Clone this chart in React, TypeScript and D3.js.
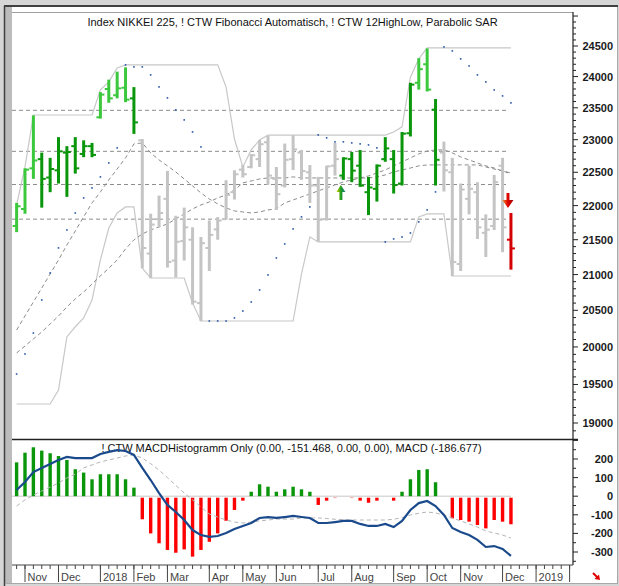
import * as d3 from 'd3';

// weekly bars, index -1 = last week of Oct 2017, index 58 = week of Dec 14 2018
const FIRST = -1;

const opens = [21700, 21950, 22560, 22700, 22420, 22530, 22800, 22900, 22780, 22900, 23350, 23800, 23700, 23820, 23650,
  22990, 21300, 21800, 22100, 21200, 21480, 21500, 20600, 21380, 21650, 21800, 22200, 22540, 22580, 22700, 22960, 22400,
  22300, 22700, 22800, 22500, 22300, 21800, 22600, 22450, 22700, 22600, 22200, 22250, 22700, 22700, 22330, 23100, 23900,
  24200, 23470, 22800, 22500, 21150, 22100, 22200, 21600, 21700, 22600, 21500];
const highs = [22040, 22560, 23380, 22800, 22720, 23040, 22900, 23040, 22990, 22950, 23750, 23950, 24080, 24150, 23830,
  23010, 21880, 22150, 22520, 21850, 21970, 21680, 21540, 21780, 21830, 22380, 22530, 22610, 22780, 22995, 23060, 22580,
  22940, 23070, 22840, 22610, 22430, 22600, 22950, 22730, 22810, 22840, 22430, 22620, 23040, 22840, 23120, 23900, 24300,
  24460, 23640, 22970, 22720, 22330, 22600, 22350, 21870, 22460, 22720, 21890];
const lows = [21610, 21880, 22400, 21970, 22200, 22330, 22130, 22480, 22730, 22730, 23330, 23580, 23650, 23590, 23090,
  21090, 20950, 21680, 21100, 20960, 21200, 20580, 20350, 21050, 21500, 21790, 22090, 22420, 22560, 22580, 22310, 21935,
  22270, 22535, 22385, 22040, 21470, 21780, 22450, 22385, 22350, 22280, 21860, 22060, 22660, 22180, 22300, 23050, 23790,
  23760, 22300, 22210, 20980, 21050, 21870, 21510, 21250, 21640, 21320, 21070];
const closes = [21990, 22540, 22680, 22400, 22550, 22820, 22810, 22560, 22900, 22765, 23710, 23650, 23810, 23630, 23270,
  21380, 21720, 21890, 21180, 21470, 21680, 20620, 21450, 21570, 21780, 22160, 22470, 22470, 22760, 22930, 22450, 22170,
  22690, 22850, 22520, 22300, 21790, 22590, 22700, 22710, 22525, 22300, 22270, 22600, 22865, 22307, 23094, 23870, 24120,
  23790, 22690, 22530, 21180, 22240, 22250, 21680, 21646, 22350, 21680, 21374];
// L light green, D dark green, G grey, R red
const barColors = 'LLLDDDDDDDLLLLDGGGGGGGGGGGGGGGGGGGGGGGGDDDDDDDDDLLDGGGGGGGGR'.split('');

const high12 = [22010, 22581, 23386, 23386, 23386, 23386, 23386, 23386, 23386, 23386, 23785, 23914, 24141,
  24190, 24190, 24190, 24190, 24190, 24190, 24190, 24190, 24190, 24190, 24190, 24190, 23830, 23010, 22581, 22842, 22996,
  23070, 23070, 23070, 23070, 23070, 23070, 23070, 23070, 23070, 23070, 23070, 23070, 23070, 23070, 23070,
  23120, 23200, 23990, 24290, 24469, 24469, 24469, 24469, 24469, 24469, 24469, 24469, 24469, 24469, 24469];
const low12 = [19245, 19245, 19245, 19245, 19245, 19428, 20135, 20274, 20395, 20644, 21208, 21670, 21891, 21980, 21980,
  21090, 20952, 20952, 20952, 20952, 20952, 20602, 20353, 20353, 20353, 20353, 20353, 20353, 20353, 20353, 20353, 20353,
  20353, 20353, 21010, 21540, 21468, 21468, 21468, 21468, 21468, 21468, 21468, 21468, 21468, 21468, 21468, 21468, 21833,
  21877, 21877, 21877, 20980, 20980, 20980, 20980, 20980, 20980, 20980, 20980];
const maFast = [20230, 20422, 20616, 20811, 21009, 21208, 21424, 21627, 21833, 22040, 22204, 22384, 22550, 22719, 22935,
  22950, 22796, 22688, 22597, 22505, 22399, 22294, 22189, 22099, 22025, 21966, 21921, 21906, 21891, 21906, 21936, 21951,
  22040, 22084, 22129, 22174, 22219, 22264, 22309, 22354, 22384, 22414, 22445, 22490, 22535, 22597, 22657, 22719, 22780,
  22826, 22842, 22842, 22796, 22734, 22688, 22642, 22597, 22565, 22520, 22475];
const maSlow = [19919, 20013, 20108, 20203, 20312, 20422, 20547, 20658, 20755, 20868, 20981, 21090, 21208, 21366, 21497,
  21583, 21642, 21685, 21730, 21803, 21877, 21951, 22010, 22055, 22114, 22159, 22234, 22339, 22369, 22399, 22414, 22414,
  22414, 22430, 22414, 22414, 22414, 22414, 22414, 22414, 22414, 22414, 22414, 22430, 22460, 22505, 22535, 22565, 22597,
  22612, 22612, 22612, 22612, 22612, 22612, 22612, 22581, 22550, 22520, 22490];
const sar = [19638, 19905, 20189, 20644, 21023, 21381, 21642, 21891, 22114, 22264, 22430, 22642, 22873, 24190, 24157,
  24157, 24027, 23833, 23657, 23467, 23309, 23121, 22888, 20353, 20353, 20353, 20395, 20491, 20616, 20783, 20995, 21237,
  21439, 21657, 21833, 21980, 23074, 23028, 22966, 22966, 22950, 22935, 22919, 22873, 21468, 21511, 21540, 21598, 21759,
  21936, 22204, 24485, 24419, 24288, 24173, 24027, 23914, 23785, 23689, 23578];
const fibLevels = [23460, 22820, 22315, 21800];

const histogram = [182, 234, 263, 245, 231, 216, 195, 145, 127, 91, 118, 118, 118, 91, 46, -124, -200, -253, -289, -304,
  -286, -325, -289, -245, -200, -132, -74, -24, 24, 64, 51, 24, 37, 51, 37, 24, -47, -24, -10, -3, -10, -24, -35, -24, -3,
  -24, 24, 91, 141, 145, 75, -5, -119, -128, -137, -155, -173, -128, -137, -151];
const macdLine = [33, 76, 130, 152, 173, 195, 211, 205, 205, 205, 227, 238, 248, 243, 222, 152, 87, 17, -47, -85, -128,
  -182, -209, -219, -214, -198, -176, -160, -144, -117, -112, -117, -112, -106, -112, -117, -144, -144, -139, -133, -133,
  -149, -160, -160, -149, -166, -133, -74, -37, -26, -53, -101, -171, -192, -209, -235, -273, -268, -284, -321];
const signalLine = [-53, -20, 6, 28, 49, 71, 98, 119, 152, 168, 184, 195, 205, 216, 222, 205, 175, 140, 100, 58, 17, -20,
  -58, -96, -112, -128, -139, -144, -139, -133, -128, -123, -123, -123, -117, -117, -117, -120, -124, -126, -128, -128,
  -128, -128, -128, -124, -115, -101, -92, -85, -90, -101, -117, -133, -149, -166, -187, -198, -209, -225];

const monthTicks = [
  { i: 0, label: 'Nov' }, { i: 4, label: 'Dec' }, { i: 9, label: '2018' }, { i: 13, label: 'Feb' },
  { i: 17, label: 'Mar' }, { i: 22, label: 'Apr' }, { i: 26, label: 'May' }, { i: 30, label: 'Jun' },
  { i: 35, label: 'Jul' }, { i: 39, label: 'Aug' }, { i: 44, label: 'Sep' }, { i: 48, label: 'Oct' },
  { i: 52, label: 'Nov' }, { i: 57, label: 'Dec' }, { i: 61, label: '2019' }, { i: 65, label: '' },
];

const titleTop = 'Index NIKKEI 225, ! CTW Fibonacci Automatisch, ! CTW 12HighLow, Parabolic SAR';
const titleBottom = '! CTW MACDHistogramm Only (0.00, -151.468, 0.00, 0.00), MACD (-186.677)';

const colorMap: Record<string, string> = { L: '#3cc83c', D: '#0a960a', G: '#c4c4c4', R: '#d40000' };
const font = '"Liberation Sans", Arial, sans-serif';

export default function App() {
  const left = 12;
  const axisX = 573;
  const x = d3.scaleLinear().domain([0, 65]).range([25, 569.6]);
  const y = d3.scaleLog().domain([19000, 24500]).range([423, 46]);
  const ym = d3.scaleLinear().domain([-300, 200]).range([552, 459]);
  const idx = (k: number) => k + FIRST;

  const pLine = (vals: number[]) =>
    d3.line<number>().x((_, k) => x(idx(k))).y((v) => y(v))(vals) ?? '';
  const mLine = (vals: number[]) =>
    d3.line<number>().x((_, k) => x(idx(k))).y((v) => ym(v))(vals) ?? '';

  const priceTicks = d3.range(18900, 25001, 100).filter((v) => y(v) >= 13 && y(v) <= 437);
  const priceLabels = d3.range(19000, 24501, 500);
  const macdTicks = d3.range(-350, 301, 50);
  const macdLabels = d3.range(-300, 201, 100);
  const lastX = x(idx(closes.length - 1));

  const upX = x(38) - 2.5;
  const dnX = x(58) - 3;

  return (
    <div style={{ position: 'fixed', left: 0, top: 0 }}>
      <svg width={619} height={586} style={{ display: 'block' }}>
        <defs>
          <clipPath id="top"><rect x={left} y={13} width={axisX - left} height={425} /></clipPath>
          <clipPath id="bot"><rect x={left} y={440} width={axisX - left} height={125} /></clipPath>
          <linearGradient id="upG" x1="0" x2="1" y1="0" y2="0">
            <stop offset="0" stopColor="#e0d800" />
            <stop offset="0.5" stopColor="#1c9c1c" />
            <stop offset="1" stopColor="#1a7a8a" />
          </linearGradient>
          <linearGradient id="dnG" x1="0" x2="1" y1="0" y2="0">
            <stop offset="0" stopColor="#f08a20" />
            <stop offset="0.5" stopColor="#e00000" />
            <stop offset="1" stopColor="#a00000" />
          </linearGradient>
        </defs>

        <rect x={0} y={0} width={619} height={586} fill="#d6d6d6" />
        <rect x={5} y={7} width={612} height={577} fill="#ffffff" />
        <rect x={5} y={7} width={7} height={577} fill="#bcbcbc" />
        <line x1={4} x2={618} y1={6} y2={6} stroke="#404040" strokeWidth={2} />
        <line x1={4.5} x2={4.5} y1={6} y2={586} stroke="#404040" strokeWidth={1.5} />
        <line x1={617.5} x2={617.5} y1={7} y2={584} stroke="#a8a8a8" />
        <line x1={5} x2={618} y1={583.5} y2={583.5} stroke="#a8a8a8" />
        <line x1={left} x2={axisX} y1={12.5} y2={12.5} stroke="#a0a0a0" />

        <text x={292.5} y={26} textAnchor="middle" fontFamily={font} fontSize={11} fill="#111">{titleTop}</text>

        <g clipPath="url(#top)">
          {fibLevels.map((v) => (
            <line key={v} x1={left} x2={lastX - 3} y1={y(v)} y2={y(v)} stroke="#8c8c8c" strokeDasharray="4 3" />
          ))}
          <path d={pLine(high12)} fill="none" stroke="#c8c8c8" strokeWidth={1.2} />
          <path d={pLine(low12)} fill="none" stroke="#c8c8c8" strokeWidth={1.2} />
          <path d={pLine(maFast)} fill="none" stroke="#8c8c8c" strokeDasharray="4 3" />
          <path d={pLine(maSlow)} fill="none" stroke="#8c8c8c" strokeDasharray="4 3" />
          {opens.map((o, k) => {
            const cx = x(idx(k));
            const col = colorMap[barColors[k]];
            return (
              <g key={k} stroke={col}>
                <line x1={cx} x2={cx} y1={y(highs[k])} y2={y(lows[k])} strokeWidth={3} />
                <line x1={cx - 4} x2={cx} y1={y(o)} y2={y(o)} strokeWidth={2} />
                <line x1={cx} x2={cx + 4} y1={y(closes[k])} y2={y(closes[k])} strokeWidth={2} />
              </g>
            );
          })}
          {sar.map((v, k) => (
            <rect key={k} x={x(idx(k)) - 0.8} y={y(v) - 0.8} width={1.6} height={1.6} fill="#2a56a8" />
          ))}
          <path
            d={`M${upX},185 L${upX + 4.5},192 L${upX + 1.5},192 L${upX + 1.5},200 L${upX - 1.5},200 L${upX - 1.5},192 L${upX - 4.5},192 Z`}
            fill="url(#upG)"
          />
          <path
            d={`M${dnX - 1.5},193 L${dnX + 1.5},193 L${dnX + 1.5},200 L${dnX + 5.5},200 L${dnX},208 L${dnX - 5.5},200 L${dnX - 1.5},200 Z`}
            fill="url(#dnG)"
          />
        </g>

        {/* price axis */}
        <line x1={axisX} x2={axisX} y1={12} y2={565} stroke="#222" strokeWidth={1.2} />
        {priceTicks.map((v) => (
          <line key={v} x1={axisX} x2={axisX + (v % 500 === 0 ? 5 : 3)} y1={y(v)} y2={y(v)} stroke="#222" />
        ))}
        {priceLabels.map((v) => (
          <text key={v} x={613} y={y(v) + 4} textAnchor="end" fontFamily={font} fontSize={11} fontWeight="bold" fill="#1a1a1a">
            {v}
          </text>
        ))}

        {/* MACD panel */}
        <line x1={left} x2={578} y1={439.5} y2={439.5} stroke="#222" strokeWidth={1.5} />
        <text x={291.5} y={452} textAnchor="middle" fontFamily={font} fontSize={11} fill="#111">{titleBottom}</text>
        <g clipPath="url(#bot)">
          <line x1={left} x2={lastX} y1={ym(0)} y2={ym(0)} stroke="#c8c8c8" />
          {histogram.map((v, k) => {
            const cx = x(idx(k));
            const y0 = v >= 0 ? ym(v) : ym(0) + 1.5;
            const h = v >= 0 ? ym(0) - ym(v) : ym(v) - ym(0) - 1.5;
            return (
              <rect key={k} x={cx - 1.7} y={y0} width={3.4} height={Math.max(0, h)} fill={v >= 0 ? '#0a960a' : '#ff0000'} />
            );
          })}
          <path d={mLine(signalLine)} fill="none" stroke="#b4b4b4" strokeDasharray="4 3" />
          <path d={mLine(macdLine)} fill="none" stroke="#1a4a8c" strokeWidth={2.2} />
        </g>
        {macdTicks.map((v) => (
          <line key={v} x1={axisX} x2={axisX + (v % 100 === 0 ? 5 : 3)} y1={ym(v)} y2={ym(v)} stroke="#222" />
        ))}
        {macdLabels.map((v) => (
          <text key={v} x={613} y={ym(v) + 4} textAnchor="end" fontFamily={font} fontSize={11} fontWeight="bold" fill="#1a1a1a">
            {v}
          </text>
        ))}

        {/* time axis */}
        <line x1={left} x2={axisX} y1={565} y2={565} stroke="#444" />
        {d3.range(-1, 66).map((i) => (
          <line key={i} x1={x(i)} x2={x(i)} y1={565} y2={569} stroke="#444" />
        ))}
        {monthTicks.map((t) => (
          <g key={t.i}>
            <line x1={x(t.i)} x2={x(t.i)} y1={565} y2={582} stroke="#444" />
            <text x={x(t.i) + 2.5} y={581} fontFamily={font} fontSize={11} fill="#444">{t.label}</text>
          </g>
        ))}
        <path d="M593,573 L598.5,578.5" stroke="#e00000" strokeWidth={2} />
        <path d="M600,580 L594.5,579 L599,574.5 Z" fill="#e00000" />
      </svg>
    </div>
  );
}
